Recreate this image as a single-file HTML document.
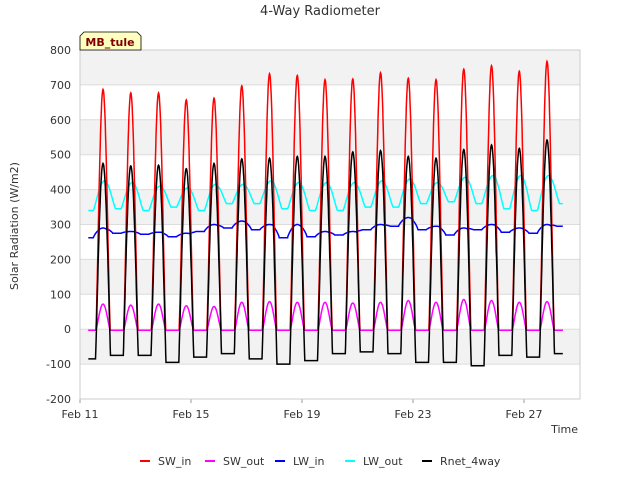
<!DOCTYPE html>
<html><head><meta charset="utf-8"><style>
body{margin:0;background:#fff;font-family:"Liberation Sans","DejaVu Sans",sans-serif}
svg text{font-family:"DejaVu Sans","Liberation Sans",sans-serif}
</style></head><body>
<svg id="c" width="640" height="480" viewBox="0 0 640 480">
<text x="320" y="15" text-anchor="middle" font-size="13" fill="#333">4-Way Radiometer</text>
<g id="grid"></g>
<g id="series"></g>
<g id="axes"></g>
<g>
<path d="M80,50 L80,36 L84,32 L137,32 L141,36 L141,50 Z" fill="#ffffc0" stroke="#000" stroke-width="0.8"/>
<text x="110" y="46" text-anchor="middle" font-size="11" font-weight="bold" fill="#800000">MB_tule</text>
</g>
<text x="18" y="226" transform="rotate(-90 18 226)" text-anchor="middle" font-size="11" fill="#333">Solar Radiation (W/m2)</text>
<text x="578" y="433" text-anchor="end" font-size="11" fill="#333">Time</text>
<g id="legend"></g>
</svg>
<script>
const yTicks=[-200,-100,0,100,200,300,400,500,600,700,800];
const xTickLabels=["Feb 11","Feb 15","Feb 19","Feb 23","Feb 27"];
const xTickDays=[0,4,8,12,16];
const swInPeak=[690,680,680,660,665,700,735,730,718,720,738,722,718,748,758,742,770];
const swOutPeak=[75,72,75,70,68,80,82,80,80,78,80,85,80,88,85,80,82];
const rnetPeak=[475,468,470,460,475,488,490,495,495,508,512,495,490,515,528,518,542];
const rnetNight=[-85,-75,-75,-95,-80,-70,-85,-100,-90,-70,-65,-70,-95,-95,-105,-75,-80,-70];
const lwInBase=[262,275,272,265,280,290,285,262,265,270,285,295,285,270,285,278,275,295];
const lwInDay=[290,280,278,275,300,310,300,300,280,280,300,320,295,290,300,290,300];
const lwOutNight=[340,345,340,350,340,360,360,345,340,340,350,350,360,365,360,345,340,360];
const lwOutPeak=[425,420,410,405,415,415,425,420,420,420,425,430,420,435,440,440,440];
const names=["SW_in","SW_out","LW_in","LW_out","Rnet_4way"];
const colors=["#ff0000","#ff00ff","#0000ff","#00ffff","#000000"];
const X0=80,X1=580,Y0=50,Y1=399,dayPx=27.75;
const sx=d=>X0+d*dayPx;
const sy=v=>Y1-(v+200)*(Y1-Y0)/1000;
const NS="http://www.w3.org/2000/svg";
function mk(t,a,p){const e=document.createElementNS(NS,t);for(const k in a)e.setAttribute(k,a[k]);p.appendChild(e);return e;}
const grid=document.getElementById('grid'),axes=document.getElementById('axes'),ser=document.getElementById('series'),leg=document.getElementById('legend');
mk('rect',{x:X0,y:Y0,width:X1-X0,height:Y1-Y0,fill:'#fff'},grid);
for(let i=0;i<yTicks.length-1;i++){
 if(i%2===1){const r=mk('rect',{x:X0,y:sy(yTicks[i+1]),width:X1-X0,height:sy(yTicks[i])-sy(yTicks[i+1]),fill:'#f2f2f2'},grid);
 
 }
}
yTicks.forEach(v=>{
 const l=mk('line',{x1:X0,x2:X1,y1:sy(v),y2:sy(v),stroke:'#dcdcdc','stroke-width':1},grid);
 
 
 const t=mk('text',{x:X0-9,y:sy(v)+4,'text-anchor':'end','font-size':11,fill:'#333'},axes);t.textContent=v;
 
 
});
xTickDays.forEach((d,i)=>{
 const t=mk('text',{x:sx(d),y:418,'text-anchor':'middle','font-size':11,fill:'#333'},axes);t.textContent=xTickLabels[i];
 
 
 mk('line',{x1:sx(d),x2:sx(d),y1:Y1,y2:Y1+4,stroke:'#999'},axes);
});
mk('rect',{x:X0,y:Y0,width:X1-X0,height:Y1-Y0,fill:'none',stroke:'#ccc'},axes);
function shapeW(t,w,pw){const f=t-Math.floor(t);const dd=f-0.83;const x=((dd+0.5)%1+1)%1-0.5;return Math.abs(x)<w?Math.pow(Math.cos(Math.PI/2*x/w),pw):0;}
const shape=t=>shapeW(t,0.26,1.3);
function dayIdx(t){return Math.min(16,Math.max(0,Math.floor(t-0.33)));}
function nightIdx(t){return Math.min(17,Math.max(0,Math.floor(t)));}
const start=0.3,end=17.4,step=0.01;
function build(fn){let p='';for(let t=start;t<=end+1e-9;t+=step){p+=(p?'L':'M')+sx(t).toFixed(1)+','+sy(fn(t)).toFixed(1);}return p;}
const fns=[
 t=>swInPeak[dayIdx(t)]*shape(t)-3,
 t=>swOutPeak[dayIdx(t)]*shape(t)-3,
 t=>{const i=dayIdx(t);const b=lwInBase[nightIdx(t)];return b+(lwInDay[i]-b)*shapeW(t,0.35,0.8);},
 t=>{const i=dayIdx(t);const n=lwOutNight[nightIdx(t)];const s=shapeW(t-0.05,0.4,1.2);return n+(lwOutPeak[i]-n)*s;},
 t=>{const i=dayIdx(t);const n=rnetNight[nightIdx(t)];const s=shapeW(t,0.27,1.1);return n+(rnetPeak[i]-n)*s;}
];
const order=[3,2,0,1,4];
order.forEach(k=>{
 const p=mk('path',{d:build(fns[k]),fill:'none',stroke:colors[k],'stroke-width':1.5},ser);
 
 
});
const lx=[140,205,275,345,422];
names.forEach((n,i)=>{
 const g=mk('g',{},leg);
 
 
 mk('line',{x1:lx[i],x2:lx[i]+10,y1:461,y2:461,stroke:colors[i],'stroke-width':2},g);
 const t=mk('text',{x:lx[i]+18,y:465,'font-size':11,fill:'#333'},g);t.textContent=n;
});
</script>
</body></html>
